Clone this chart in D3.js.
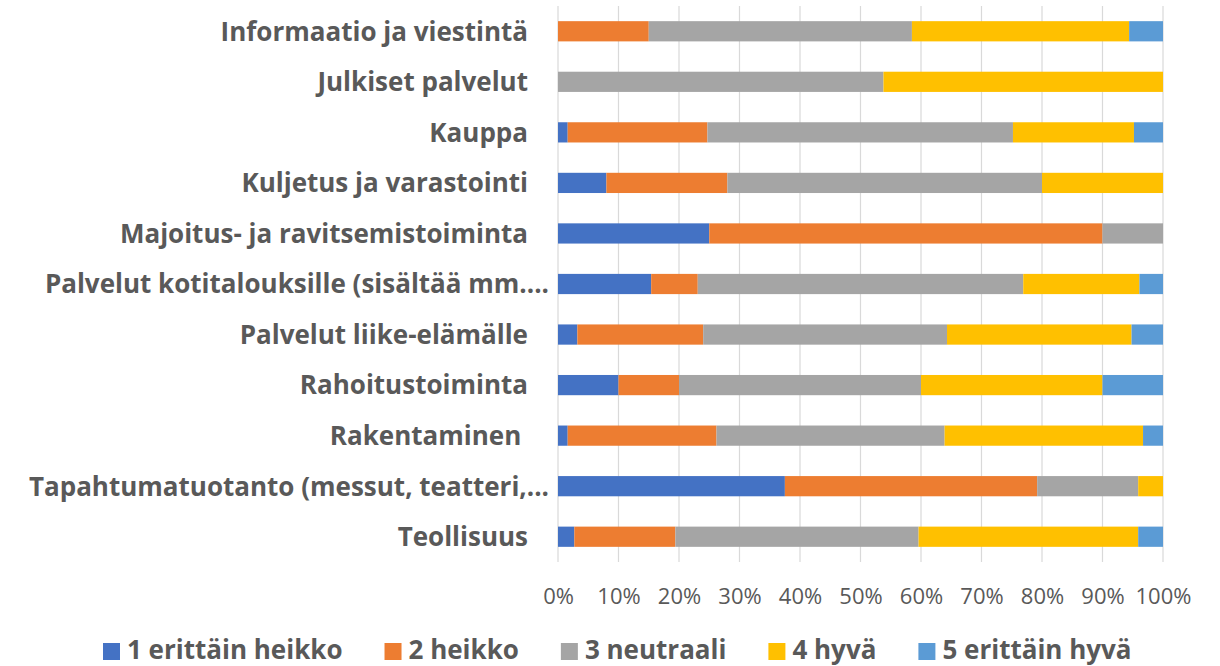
<!DOCTYPE html>
<html>
<head>
<meta charset="utf-8">
<script src="https://cdn.jsdelivr.net/npm/d3@7"></script>
<style>
  body { margin: 0; background: #fff; }
  svg { display: block; }
  text { font-family: "Open Sans", Lato, sans-serif; fill: #595959; }
</style>
</head>
<body>
<div id="chart"></div>
<script>
// Categories (top to bottom)
const categories = [
  "Informaatio ja viestintä",
  "Julkiset palvelut",
  "Kauppa",
  "Kuljetus ja varastointi",
  "Majoitus- ja ravitsemistoiminta",
  "Palvelut kotitalouksille (sisältää mm....",
  "Palvelut liike-elämälle",
  "Rahoitustoiminta",
  "Rakentaminen ",
  "Tapahtumatuotanto (messut, teatteri,...",
  "Teollisuus"
];

// Series shares in percent, one value per category
const erittainHeikko = [0, 0, 1.6, 8, 25, 15.4, 3.2, 10, 1.6, 37.5, 2.7];
const heikko         = [15.0, 0, 23.1, 20, 65, 7.7, 20.8, 10, 24.6, 41.7, 16.7];
const neutraali      = [43.5, 53.8, 50.5, 52, 10, 53.8, 40.3, 40, 37.7, 16.7, 40.2];
const hyva           = [35.9, 46.2, 20.0, 20, 0, 19.2, 30.5, 30, 32.8, 4.1, 36.3];
const erittainHyva   = [5.6, 0, 4.8, 0, 0, 3.9, 5.2, 10, 3.3, 0, 4.1];

const seriesNames = ["1 erittäin heikko", "2 heikko", "3 neutraali", "4 hyvä", "5 erittäin hyvä"];
const seriesColors = ["#4472C4", "#ED7D31", "#A5A5A5", "#FFC000", "#5B9BD5"];
const xTicks = [0, 10, 20, 30, 40, 50, 60, 70, 80, 90, 100];

const width = 1220, height = 666;
const margin = { top: 6, right: 57, bottom: 104, left: 558 };

const svg = d3.select("#chart").append("svg")
  .attr("width", width)
  .attr("height", height);

// Build rows for the stack
const seriesValues = [erittainHeikko, heikko, neutraali, hyva, erittainHyva];
const rows = categories.map((c, i) => {
  const r = { cat: c };
  seriesNames.forEach((s, j) => { r[s] = seriesValues[j][i]; });
  return r;
});

const stack = d3.stack().keys(seriesNames).offset(d3.stackOffsetExpand);
const stacked = stack(rows);

const x = d3.scaleLinear()
  .domain([0, 1])
  .range([margin.left, width - margin.right]);

const y = d3.scaleBand()
  .domain(categories)
  .range([margin.top, height - margin.bottom])
  .paddingInner(0.6)
  .paddingOuter(0.3);

// Gridlines
svg.append("g")
  .selectAll("line")
  .data(xTicks)
  .enter()
  .append("line")
  .attr("x1", d => x(d / 100))
  .attr("x2", d => x(d / 100))
  .attr("y1", margin.top)
  .attr("y2", height - margin.bottom)
  .attr("stroke", "#d9d9d9")
  .attr("stroke-width", 1.2);

// Bars
svg.append("g")
  .selectAll("g")
  .data(stacked)
  .enter()
  .append("g")
  .attr("fill", (d, i) => seriesColors[i])
  .selectAll("rect")
  .data(d => d)
  .enter()
  .append("rect")
  .attr("x", d => x(d[0]))
  .attr("width", d => Math.max(0, x(d[1]) - x(d[0])))
  .attr("y", d => y(d.data.cat))
  .attr("height", y.bandwidth());

// Category labels
const yAxis = svg.append("g")
  .attr("transform", `translate(${margin.left},0)`)
  .call(d3.axisLeft(y).tickSize(0).tickPadding(0));
yAxis.select(".domain").remove();
yAxis.selectAll("text")
  .attr("x", -30)
  .attr("dy", "0.36em")
  .attr("font-size", "26px")
  .attr("font-weight", "bold")
  .attr("fill", "#595959")
  .style("font-family", "'Open Sans', sans-serif")
  .style("white-space", "pre");
// long truncated labels reach closer to the axis
yAxis.selectAll("text")
  .filter(d => d.endsWith("..."))
  .attr("x", -9);

// X axis labels
const xAxis = svg.append("g")
  .attr("transform", `translate(0,${height - margin.bottom})`)
  .call(d3.axisBottom(x)
    .tickValues(xTicks.map(t => t / 100))
    .tickFormat(d => Math.round(d * 100) + "%")
    .tickSize(0)
    .tickPadding(26));
xAxis.select(".domain").remove();
xAxis.selectAll("text")
  .attr("font-size", "22px")
  .attr("fill", "#595959")
  .style("font-family", "'Open Sans', sans-serif");

// Legend
const legend = svg.append("g");
const items = legend.selectAll("g")
  .data(seriesNames)
  .enter()
  .append("g");
items.append("rect")
  .attr("width", 17)
  .attr("height", 17)
  .attr("y", -16)
  .attr("fill", (d, i) => seriesColors[i]);
items.append("text")
  .attr("x", 24)
  .attr("font-size", "26px")
  .attr("font-weight", "bold")
  .attr("fill", "#595959")
  .text(d => d);

let offset = 103;
const positions = [];
items.each(function() {
  positions.push(offset);
  const w = d3.select(this).select("text").node().getComputedTextLength();
  offset += 24 + w + 42;
});
items.attr("transform", (d, i) => `translate(${positions[i]},659)`);
</script>
</body>
</html>
